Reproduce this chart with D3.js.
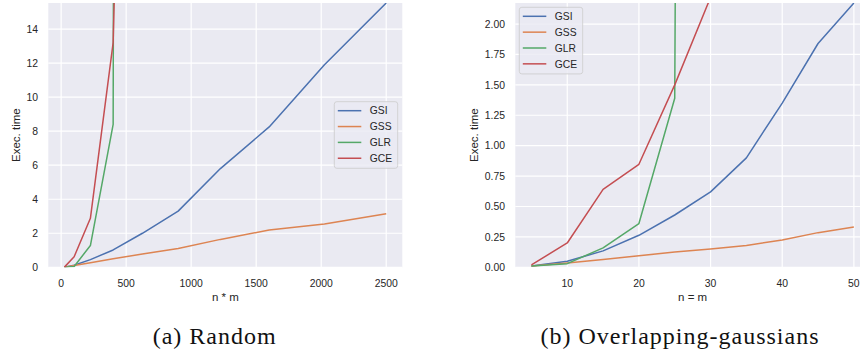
<!DOCTYPE html>
<html>
<head>
<meta charset="utf-8">
<script src="https://cdn.jsdelivr.net/npm/d3@7"></script>
<style>
	body { margin: 0; background: #ffffff; }
	svg { display: block; }
	.tick-label { font-family: "Liberation Sans", Arial, sans-serif; font-size: 10.4px; fill: #262626; }
	.axis-label { font-family: "Liberation Sans", Arial, sans-serif; font-size: 11.5px; fill: #262626; }
	.legend-label { font-family: "Liberation Sans", Arial, sans-serif; font-size: 10.3px; fill: #262626; }
	.caption { font-family: "Liberation Serif", "Times New Roman", serif; font-size: 24px; fill: #111111; letter-spacing: 1px; }
</style>
</head>
<body>
<div id="chart"></div>
<script>
// series names and colours (seaborn "deep")
var seriesNames = ["GSI", "GSS", "GLR", "GCE"];
var seriesColors = ["#4c72b0", "#dd8452", "#55a868", "#c44e52"];

// (a) Random : x = n * m
var xRandom = [25, 100, 225, 400, 625, 900, 1225, 1600, 2025, 2500];
var gsiRandom = [0.01, 0.12, 0.45, 1.02, 2.0, 3.3, 5.8, 8.25, 11.9, 15.53];
var gssRandom = [0.01, 0.1, 0.27, 0.5, 0.78, 1.1, 1.64, 2.19, 2.54, 3.15];
var glrRandom = [0.01, 0.05, 1.28, 8.4, 900];
var gceRandom = [0.01, 0.62, 2.88, 13.2, 80];
var xTicksRandom = [0, 500, 1000, 1500, 2000, 2500];
var yTicksRandom = [0, 2, 4, 6, 8, 10, 12, 14];

// (b) Overlapping-gaussians : x = n = m
var xGauss = [5, 10, 15, 20, 25, 30, 35, 40, 45, 50];
var gsiGauss = [0.01, 0.05, 0.135, 0.263, 0.43, 0.62, 0.9, 1.35, 1.84, 2.173];
var gssGauss = [0.01, 0.035, 0.065, 0.095, 0.125, 0.15, 0.18, 0.224, 0.285, 0.332];
var glrGauss = [0.01, 0.03, 0.16, 0.36, 1.39, 60];
var gceGauss = [0.02, 0.2, 0.64, 0.847, 1.5, 2.22];
var xTicksGauss = [10, 20, 30, 40, 50];
var yTicksGauss = [0, 0.25, 0.5, 0.75, 1.0, 1.25, 1.5, 1.75, 2.0];

var svg = d3.select("#chart")
	.append("svg")
	.attr("width", 860)
	.attr("height", 354);

function drawPanel(p) {
	var g = svg.append("g");

	// matplotlib style 5% margin on x, y from 0 to the max of GSI
	var xmin = d3.min(p.x), xmax = d3.max(p.x);
	var pad = (xmax - xmin) * 0.05;
	var x = d3.scaleLinear()
		.domain([xmin - pad, xmax + pad])
		.range([p.left, p.right]);
	var y = d3.scaleLinear()
		.domain([0, d3.max(p.series[0])])
		.range([p.bottom, p.top]);

	g.append("clipPath")
		.attr("id", p.id)
		.append("rect")
		.attr("x", p.left)
		.attr("y", p.top)
		.attr("width", p.right - p.left)
		.attr("height", p.bottom - p.top);

	// background
	g.append("rect")
		.attr("x", p.left)
		.attr("y", p.top)
		.attr("width", p.right - p.left)
		.attr("height", p.bottom - p.top)
		.style("fill", "#eaeaf2");

	// grid
	g.selectAll(".vgrid")
		.data(p.xTicks)
		.enter().append("line")
		.attr("x1", function(d) { return x(d); })
		.attr("x2", function(d) { return x(d); })
		.attr("y1", p.top)
		.attr("y2", p.bottom)
		.style("stroke", "#ffffff")
		.style("stroke-width", 1.2);
	g.selectAll(".hgrid")
		.data(p.yTicks)
		.enter().append("line")
		.attr("x1", p.left)
		.attr("x2", p.right)
		.attr("y1", function(d) { return y(d); })
		.attr("y2", function(d) { return y(d); })
		.style("stroke", "#ffffff")
		.style("stroke-width", 1.2);

	// tick labels
	g.selectAll(".xlab")
		.data(p.xTicks)
		.enter().append("text")
		.attr("class", "tick-label")
		.attr("x", function(d) { return x(d); })
		.attr("y", 286.7)
		.attr("text-anchor", "middle")
		.text(function(d) { return d; });
	g.selectAll(".ylab")
		.data(p.yTicks)
		.enter().append("text")
		.attr("class", "tick-label")
		.attr("x", p.left - 10.3)
		.attr("y", function(d) { return y(d) + 3.7; })
		.attr("text-anchor", "end")
		.text(function(d) { return p.yFormat(d); });

	// axis labels
	g.append("text")
		.attr("class", "axis-label")
		.attr("x", (p.left + p.right) / 2)
		.attr("y", 300.5)
		.attr("text-anchor", "middle")
		.text(p.xLabel);
	g.append("text")
		.attr("class", "axis-label")
		.attr("transform", "translate(" + p.yLabelX + "," + ((p.top + p.bottom) / 2) + ") rotate(-90)")
		.attr("text-anchor", "middle")
		.text("Exec. time");

	// lines
	var line = d3.line()
		.x(function(d) { return x(d[0]); })
		.y(function(d) { return y(d[1]); });

	var lines = g.append("g").attr("clip-path", "url(#" + p.id + ")");
	p.series.forEach(function(vals, i) {
		var pts = vals.map(function(v, j) { return [p.x[j], v]; });
		lines.append("path")
			.datum(pts)
			.attr("d", line)
			.style("fill", "none")
			.style("stroke", seriesColors[i])
			.style("stroke-width", 1.5)
			.style("stroke-linejoin", "round");
	});

	// legend
	var lg = g.append("g").attr("transform", "translate(" + p.legendX + "," + p.legendY + ")");
	lg.append("rect")
		.attr("x", 0)
		.attr("y", 0)
		.attr("width", 63.4)
		.attr("height", 66.6)
		.attr("rx", 2.5)
		.style("fill", "#eaeaf2")
		.style("fill-opacity", 0.8)
		.style("stroke", "#cccccc")
		.style("stroke-width", 0.8);
	seriesNames.forEach(function(name, i) {
		var cy = 9 + i * 15.85;
		lg.append("line")
			.attr("x1", 3.5)
			.attr("x2", 27)
			.attr("y1", cy)
			.attr("y2", cy)
			.style("stroke", seriesColors[i])
			.style("stroke-width", 1.5);
		lg.append("text")
			.attr("class", "legend-label")
			.attr("x", 35.5)
			.attr("y", cy + 3.7)
			.text(name);
	});

	// caption under the panel
	svg.append("text")
		.attr("class", "caption")
		.attr("x", p.captionX)
		.attr("y", 344)
		.attr("text-anchor", "middle")
		.text(p.caption);
}

drawPanel({
	id: "clipA",
	left: 48.3, right: 402.3, top: 3, bottom: 267.3,
	x: xRandom,
	series: [gsiRandom, gssRandom, glrRandom, gceRandom],
	xTicks: xTicksRandom,
	yTicks: yTicksRandom,
	yFormat: d3.format("d"),
	xLabel: "n * m",
	yLabelX: 20,
	legendX: 334.3, legendY: 101.7,
	caption: "(a) Random",
	captionX: 214.7
});

drawPanel({
	id: "clipB",
	left: 515.3, right: 870, top: 3, bottom: 267.3,
	x: xGauss,
	series: [gsiGauss, gssGauss, glrGauss, gceGauss],
	xTicks: xTicksGauss,
	yTicks: yTicksGauss,
	yFormat: d3.format(".2f"),
	xLabel: "n = m",
	yLabelX: 477.7,
	legendX: 519.3, legendY: 7.3,
	caption: "(b) Overlapping-gaussians",
	captionX: 680
});
</script>
</body>
</html>
